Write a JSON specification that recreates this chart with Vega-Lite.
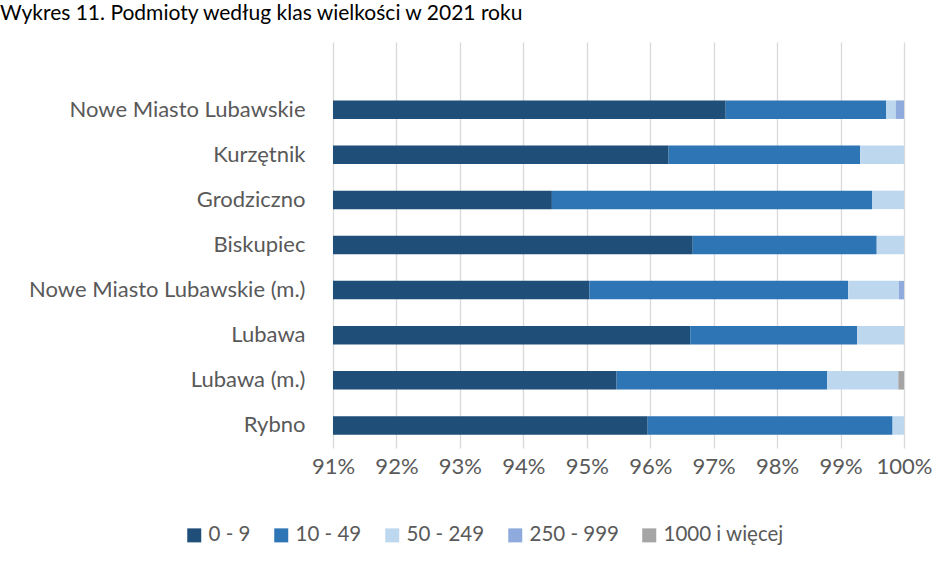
{
  "$schema": "https://vega.github.io/schema/vega-lite/v6.json",
  "autosize": {"type": "none"},
  "width": 571,
  "height": 406,
  "padding": {"left": 333, "top": 42, "right": 43, "bottom": 113},
  "background": "white",
  "title": {
    "text": "Wykres 11. Podmioty według klas wielkości w 2021 roku",
    "anchor": "start",
    "frame": "group",
    "orient": "top",
    "baseline": "bottom",
    "offset": -3,
    "dx": -333,
    "font": "Lato",
    "fontSize": 21,
    "fontWeight": "normal",
    "color": "#000000"
  },
  "data": {
    "values": [
      {"gmina": "Nowe Miasto Lubawskie", "klasa": "0 - 9", "k": 1, "udzial": 0.9719},
      {"gmina": "Nowe Miasto Lubawskie", "klasa": "10 - 49", "k": 2, "udzial": 0.0253},
      {"gmina": "Nowe Miasto Lubawskie", "klasa": "50 - 249", "k": 3, "udzial": 0.0015},
      {"gmina": "Nowe Miasto Lubawskie", "klasa": "250 - 999", "k": 4, "udzial": 0.0013},
      {"gmina": "Kurzętnik", "klasa": "0 - 9", "k": 1, "udzial": 0.9629},
      {"gmina": "Kurzętnik", "klasa": "10 - 49", "k": 2, "udzial": 0.0302},
      {"gmina": "Kurzętnik", "klasa": "50 - 249", "k": 3, "udzial": 0.0069},
      {"gmina": "Grodziczno", "klasa": "0 - 9", "k": 1, "udzial": 0.9445},
      {"gmina": "Grodziczno", "klasa": "10 - 49", "k": 2, "udzial": 0.0505},
      {"gmina": "Grodziczno", "klasa": "50 - 249", "k": 3, "udzial": 0.0050},
      {"gmina": "Biskupiec", "klasa": "0 - 9", "k": 1, "udzial": 0.9667},
      {"gmina": "Biskupiec", "klasa": "10 - 49", "k": 2, "udzial": 0.0290},
      {"gmina": "Biskupiec", "klasa": "50 - 249", "k": 3, "udzial": 0.0043},
      {"gmina": "Nowe Miasto Lubawskie (m.)", "klasa": "0 - 9", "k": 1, "udzial": 0.9504},
      {"gmina": "Nowe Miasto Lubawskie (m.)", "klasa": "10 - 49", "k": 2, "udzial": 0.0408},
      {"gmina": "Nowe Miasto Lubawskie (m.)", "klasa": "50 - 249", "k": 3, "udzial": 0.0080},
      {"gmina": "Nowe Miasto Lubawskie (m.)", "klasa": "250 - 999", "k": 4, "udzial": 0.0008},
      {"gmina": "Lubawa", "klasa": "0 - 9", "k": 1, "udzial": 0.9663},
      {"gmina": "Lubawa", "klasa": "10 - 49", "k": 2, "udzial": 0.0263},
      {"gmina": "Lubawa", "klasa": "50 - 249", "k": 3, "udzial": 0.0074},
      {"gmina": "Lubawa (m.)", "klasa": "0 - 9", "k": 1, "udzial": 0.9547},
      {"gmina": "Lubawa (m.)", "klasa": "10 - 49", "k": 2, "udzial": 0.0332},
      {"gmina": "Lubawa (m.)", "klasa": "50 - 249", "k": 3, "udzial": 0.0112},
      {"gmina": "Lubawa (m.)", "klasa": "1000 i więcej", "k": 5, "udzial": 0.0009},
      {"gmina": "Rybno", "klasa": "0 - 9", "k": 1, "udzial": 0.9596},
      {"gmina": "Rybno", "klasa": "10 - 49", "k": 2, "udzial": 0.0386},
      {"gmina": "Rybno", "klasa": "50 - 249", "k": 3, "udzial": 0.0018}
    ]
  },
  "mark": {"type": "bar", "clip": true},
  "encoding": {
    "y": {
      "field": "gmina",
      "type": "nominal",
      "scale": {
        "domain": [" ", "Nowe Miasto Lubawskie", "Kurzętnik", "Grodziczno", "Biskupiec", "Nowe Miasto Lubawskie (m.)", "Lubawa", "Lubawa (m.)", "Rybno"],
        "paddingInner": 0.59,
        "paddingOuter": 0.295
      },
      "axis": {
        "title": null,
        "domain": false,
        "ticks": false,
        "grid": false,
        "labelPadding": 28,
        "labelFont": "Lato",
        "labelFontSize": 22,
        "labelColor": "#595959",
        "labelLimit": 400
      }
    },
    "x": {
      "field": "udzial",
      "type": "quantitative",
      "stack": "zero",
      "scale": {"domain": [0.91, 1.0], "nice": false, "zero": false},
      "axis": {
        "title": null,
        "values": [0.91, 0.92, 0.93, 0.94, 0.95, 0.96, 0.97, 0.98, 0.99, 1.0],
        "format": ".0%",
        "domain": false,
        "ticks": false,
        "grid": true,
        "gridColor": "#d9d9d9",
        "gridWidth": 1.3,
        "labelPadding": 8,
        "labelFont": "Lato",
        "labelFontSize": 22,
        "labelColor": "#595959",
        "labelFlush": false
      }
    },
    "color": {
      "field": "klasa",
      "type": "nominal",
      "scale": {
        "domain": ["0 - 9", "10 - 49", "50 - 249", "250 - 999", "1000 i więcej"],
        "range": ["#1f4e79", "#2e75b6", "#bdd7ee", "#8faadc", "#a5a5a5"]
      },
      "legend": {
        "title": null,
        "orient": "none",
        "direction": "horizontal",
        "legendX": -149,
        "legendY": 483,
        "symbolType": "square",
        "symbolSize": 196,
        "symbolStrokeWidth": 0,
        "symbolOpacity": 1,
        "labelOffset": 4,
        "columnPadding": 20,
        "labelFont": "Lato",
        "labelFontSize": 20.5,
        "labelColor": "#595959"
      }
    },
    "order": {"field": "k", "type": "quantitative"}
  },
  "config": {
    "view": {"stroke": null}
  }
}
